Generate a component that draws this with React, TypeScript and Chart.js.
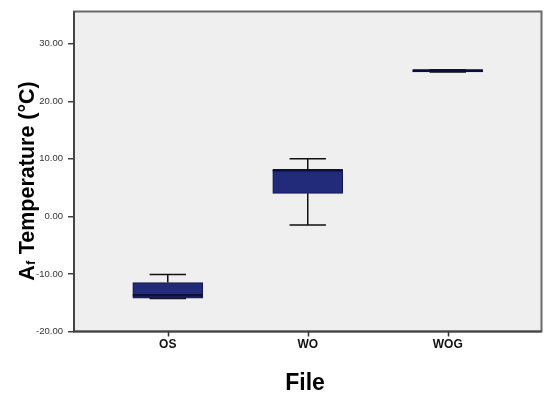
import React, { useEffect, useRef } from "react";
import { Chart, registerables } from "chart.js";

Chart.register(...registerables);

const categories = ["OS", "WO", "WOG"];
const whiskerMin = [-14.25, -1.5, 25.1];
const q1 = [-14.2, 4.0, 25.1];
const median = [-13.7, 8.0, 25.3];
const q3 = [-11.5, 8.1, 25.5];
const whiskerMax = [-10.1, 10.0, 25.5];
const yTicks = [-20, -10, 0, 10, 20, 30];
const yMin = -20;
const yMax = 35.6;

const FONT = "'Liberation Sans', Arial, sans-serif";

export default function App() {
  const ref = useRef<HTMLCanvasElement | null>(null);

  useEffect(() => {
    if (!ref.current) return;
    const capHalf = 0.13;
    const medHalf = 0.25;

    const whiskerPts: any[] = [];
    categories.forEach((_, i) => {
      whiskerPts.push({ x: i - capHalf, y: whiskerMax[i] }, { x: i + capHalf, y: whiskerMax[i] }, { x: i, y: null });
      whiskerPts.push({ x: i, y: whiskerMax[i] }, { x: i, y: q3[i] }, { x: i, y: null });
      whiskerPts.push({ x: i, y: q1[i] }, { x: i, y: whiskerMin[i] }, { x: i, y: null });
      whiskerPts.push({ x: i - capHalf, y: whiskerMin[i] }, { x: i + capHalf, y: whiskerMin[i] }, { x: i, y: null });
    });
    const medianPts: any[] = [];
    categories.forEach((_, i) => {
      medianPts.push({ x: i - medHalf, y: median[i] }, { x: i + medHalf, y: median[i] }, { x: i, y: null });
    });

    const bgPlugin = {
      id: "bgFrame",
      beforeDraw(chart: any) {
        const { ctx, chartArea: a } = chart;
        ctx.save();
        ctx.fillStyle = "#efefef";
        ctx.fillRect(a.left, a.top, a.right - a.left, a.bottom - a.top);
        ctx.restore();
      },
      afterDraw(chart: any) {
        const { ctx, chartArea: a } = chart;
        ctx.save();
        ctx.strokeStyle = "#6a6a6a";
        ctx.lineWidth = 2;
        ctx.strokeRect(a.left, a.top, a.right - a.left, a.bottom - a.top);
        ctx.strokeStyle = "#444";
        ctx.beginPath();
        ctx.moveTo(a.left, a.top);
        ctx.lineTo(a.left, a.bottom);
        ctx.lineTo(a.right, a.bottom);
        ctx.stroke();

        // x tick marks at category positions
        const xs = chart.scales.x;
        ctx.lineWidth = 1.5;
        ctx.strokeStyle = "#333";
        ctx.beginPath();
        categories.forEach((_, i) => {
          const px = Math.round(xs.getPixelForValue(i)) + 0.5;
          ctx.moveTo(px, a.bottom);
          ctx.lineTo(px, a.bottom + 5);
        });
        ctx.stroke();

        // y title with subscript
        ctx.fillStyle = "#000";
        ctx.translate(26, 181);
        ctx.rotate(-Math.PI / 2);
        ctx.textBaseline = "alphabetic";
        ctx.textAlign = "left";
        const big = `bold 21.5px ${FONT}`;
        const small = `bold 12px ${FONT}`;
        ctx.font = big;
        const wA = ctx.measureText("A").width;
        const rest = " Temperature (°C)";
        const wRest = ctx.measureText(rest).width;
        ctx.font = small;
        const wf = ctx.measureText("f").width;
        const total = wA + wf + 1 + wRest;
        let x = -total / 2;
        const base = 7.5;
        ctx.font = big;
        ctx.fillText("A", x, base);
        x += wA + 0.5;
        ctx.font = small;
        ctx.fillText("f", x, base + 1);
        x += wf + 0.5;
        ctx.font = big;
        ctx.fillText(rest, x, base);
        ctx.restore();

        // x title
        ctx.save();
        ctx.fillStyle = "#000";
        ctx.font = `bold 23px ${FONT}`;
        ctx.textAlign = "center";
        ctx.textBaseline = "alphabetic";
        ctx.fillText("File", 305, 390);
        ctx.restore();
      },
    };

    const chart = new Chart(ref.current, {
      type: "bar",
      data: {
        datasets: [
          {
            type: "line",
            label: "median",
            data: medianPts,
            borderColor: "#0b0f3a",
            borderWidth: 2.5,
            pointRadius: 0,
            spanGaps: false,
            fill: false,
            order: 0,
          } as any,
          {
            type: "bar",
            label: "box",
            data: categories.map((_, i) => ({ x: i, y: [q1[i], q3[i]] })),
            backgroundColor: "#222a7a",
            borderColor: "#12174a",
            borderWidth: 1,
            borderSkipped: false,
            barThickness: 70,
            grouped: false,
            order: 1,
          } as any,
          {
            type: "line",
            label: "whiskers",
            data: whiskerPts,
            borderColor: "#111",
            borderWidth: 1.5,
            pointRadius: 0,
            spanGaps: false,
            fill: false,
            order: 2,
          } as any,
        ],
      },
      options: {
        animation: false,
        responsive: false,
        layout: { padding: { top: 11.5, right: 8.5, left: 0, bottom: 0 } },
        plugins: { legend: { display: false }, tooltip: { enabled: false } },
        scales: {
          x: {
            type: "linear",
            offset: false,
            min: -0.67,
            max: 2.67,
            afterBuildTicks: (s: any) => {
              s.ticks = categories.map((_, i) => ({ value: i }));
            },
            afterFit: (s: any) => {
              s.height = 66.5;
            },
            grid: { offset: false, drawOnChartArea: false, drawTicks: true, tickLength: 5, color: "rgba(0,0,0,0)" },
            border: { display: false },
            ticks: {
              autoSkip: false,
              maxRotation: 0,
              padding: 1,
              color: "#111",
              font: { family: FONT, size: 12, weight: "bold" },
              callback: (v: any) => categories[v] ?? "",
            },
          },
          y: {
            type: "linear",
            min: yMin,
            max: yMax,
            afterBuildTicks: (s: any) => {
              s.ticks = yTicks.map((v) => ({ value: v }));
            },
            afterFit: (s: any) => {
              s.width = 74;
            },
            grid: { drawOnChartArea: false, drawTicks: true, tickLength: 6, color: "#444", lineWidth: 1.5 },
            border: { display: false },
            ticks: {
              padding: 5,
              color: "#333",
              font: { family: FONT, size: 9.5 },
              callback: (v: any) => Number(v).toFixed(2),
            },
          },
        },
      },
      plugins: [bgPlugin],
    } as any);
    return () => chart.destroy();
  }, []);

  return (
    <div style={{ position: "absolute", left: 0, top: 0, width: 550, height: 398 }}>
      <canvas ref={ref} width={550} height={398} style={{ display: "block" }} />
    </div>
  );
}
